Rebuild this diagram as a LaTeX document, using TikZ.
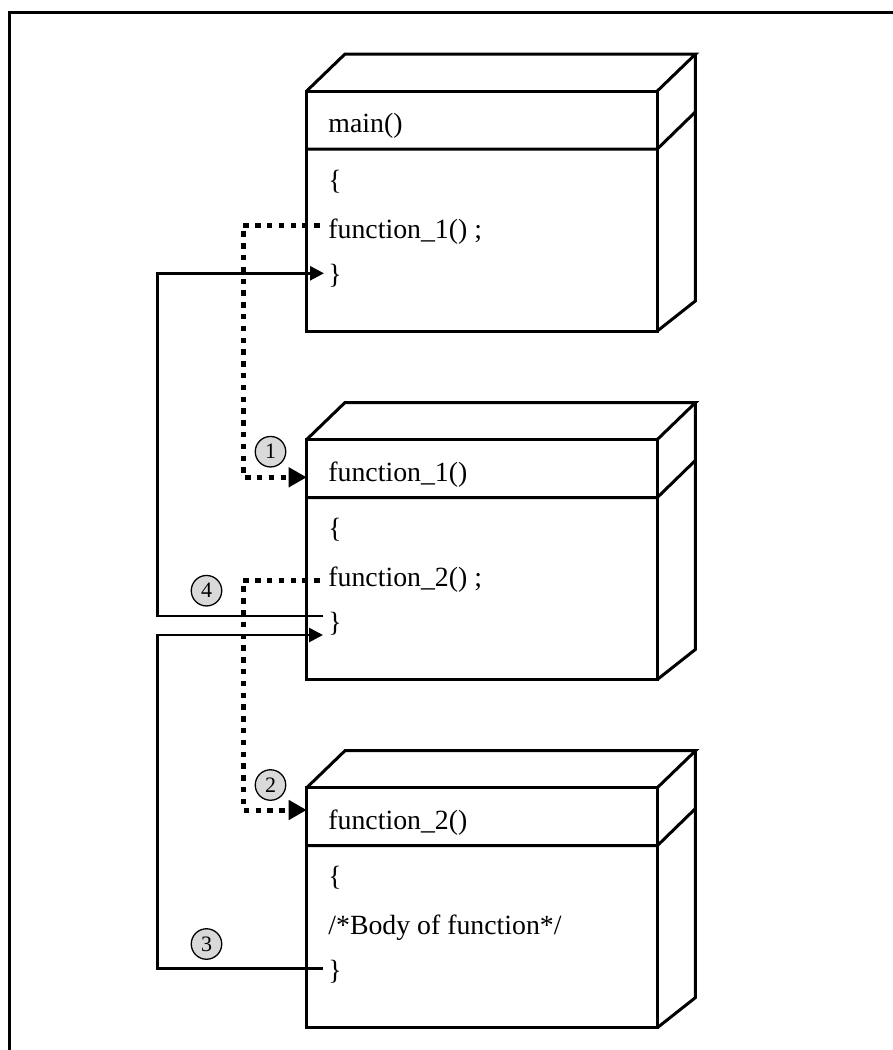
\documentclass[tikz,border=0pt]{standalone}
\usepackage{fontspec}
\setmainfont{Liberation Serif}
\usetikzlibrary{arrows.meta,calc}
\definecolor{numgray}{HTML}{D9D9D9}
\tikzset{
  boxline/.style={line width=3pt, line join=miter},
  cubefront/.style={draw, line width=3pt, anchor=north west, minimum width=350.6pt, minimum height=240pt, inner sep=0pt, outer sep=0pt},
  code/.style={font=\fontsize{27.8}{30}\selectfont, anchor=base west, inner sep=0pt},
  callline/.style={line width=5pt, dash pattern=on 5.5pt off 6.3pt, line join=miter, -{Triangle[length=18pt,width=19pt]}},
  retline/.style={line width=2.7pt, line join=miter, -{Triangle[length=14pt,width=14pt]}},
  stepnum/.style={circle, draw, line width=1.3pt, fill=numgray, minimum size=30.5pt, inner sep=0pt, font=\fontsize{22}{22}\selectfont},
}
\newcommand\drawcube[2]{%
  \node[cubefront] (#1) at (306.7,#2) {};
  \draw[boxline] (#1.north west) -- ++(38.3,-37) -- ++(350.6,0) -- (#1.north east);
  \draw[boxline] ($(#1.north east)+(38,-37)$) -- ++(0,247) -- (#1.south east);
  \draw[boxline] ($(#1.north west)+(0,58)$) -- ++(350.6,0) -- ++(38,-37);
}
\begin{document}
\begin{tikzpicture}[x=1pt,y=-1pt]
\useasboundingbox (0,0) rectangle (893,1050);
% outer frame (cropped at right and bottom)
\draw[line width=3pt, line join=miter] (9,1060) -- (9,12) -- (900,12);

% boxes
\drawcube{box1}{91}
\drawcube{box2}{439.5}
\drawcube{box3}{787.7}

% texts box 1
\node[code] (b1h) at ($(box1.north west)+(21.5,41.5)$) {main()};
\node[code] (b1o) at ($(box1.north west)+(21.5,98)$) {\{};
\node[code] (b1c) at ($(box1.north west)+(21.5,147)$) {function\_1() ;};
\node[code] (b1e) at ($(box1.north west)+(21.5,192)$) {\}};
% texts box 2
\node[code] (b2h) at ($(box2.north west)+(21.5,41.5)$) {function\_1()};
\node[code] (b2o) at ($(box2.north west)+(21.5,98)$) {\{};
\node[code] (b2c) at ($(box2.north west)+(21.5,147)$) {function\_2() ;};
\node[code] (b2e) at ($(box2.north west)+(21.5,192)$) {\}};
% texts box 3
\node[code] (b3h) at ($(box3.north west)+(21.5,41.5)$) {function\_2()};
\node[code] (b3o) at ($(box3.north west)+(21.5,98)$) {\{};
\node[code] (b3c) at ($(box3.north west)+(21.5,147)$) {/*Body of function*/};
\node[code] (b3e) at ($(box3.north west)+(21.5,192)$) {\}};

% call connectors (dotted)
\coordinate (call1) at (319.6,225);
\coordinate (d1) at (243.3,477.3);
\draw[callline] (call1) -| (d1) -- (d1 -| box2.west);
\coordinate (call2) at (319.6,580);
\coordinate (d2) at (243.3,810);
\draw[callline] (call2) -| (d2) -- (d2 -| box3.west);

% return connectors (solid)
\coordinate (ret1) at (323,616);
\coordinate (r1) at (157.5,273.3);
\coordinate (e1) at (324,273.3);
\draw[retline] (ret1) -| (r1) -- (e1);
\coordinate (ret2) at (323,968.3);
\coordinate (r2) at (157.5,635);
\coordinate (e2) at (323,635);
\draw[retline] (ret2) -| (r2) -- (e2);

% step numbers
\node[stepnum] (n1) at (270.5,451.7) {1};
\node[stepnum] (n2) at (270.5,785) {2};
\node[stepnum] (n3) at (206.5,944) {3};
\node[stepnum] (n4) at (206.5,590.7) {4};
\end{tikzpicture}
\end{document}
